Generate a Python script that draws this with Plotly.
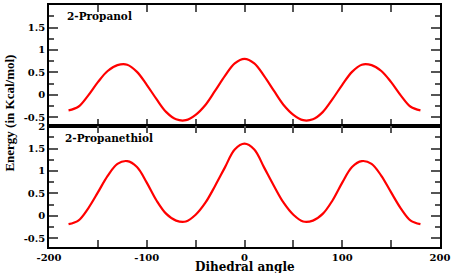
import plotly.graph_objects as go
from plotly.subplots import make_subplots

angle = [-180, -170, -160, -150, -140, -130, -120, -110, -100, -90, -80, -70, -60, -50, -40, -30, -20, -10,
         0, 10, 20, 30, 40, 50, 60, 70, 80, 90, 100, 110, 120, 130, 140, 150, 160, 170, 180]

propanol_half = [-0.35, -0.27, -0.02, 0.28, 0.53, 0.66, 0.67, 0.51, 0.22, -0.10, -0.39, -0.55, -0.57, -0.45, -0.23, 0.09, 0.42, 0.70, 0.80]
propanol = propanol_half + propanol_half[-2::-1]

thiol_half = [-0.19, -0.11, 0.16, 0.52, 0.89, 1.16, 1.22, 1.09, 0.74, 0.34, 0.04, -0.11, -0.13, 0.02, 0.29, 0.67, 1.08, 1.48, 1.61]
propanethiol = thiol_half + thiol_half[-2::-1]

panel_labels = ["2-Propanol", "2-Propanethiol"]
x_tickvals = [-200, -150, -100, -50, 0, 50, 100, 150, 200]
x_ticktext = ["-200", "", "-100", "", "0", "", "100", "", "200"]
y_tickvals = [-0.5, 0, 0.5, 1, 1.5, 2]
y_ticktext = ["-0.5", "0", "0.5", "1", "1.5", "2"]

fig = make_subplots(rows=2, cols=1, shared_xaxes=True, vertical_spacing=0)

for i, ys in enumerate([propanol, propanethiol]):
    fig.add_trace(go.Scatter(x=angle, y=ys, mode="lines",
                             line=dict(color="#ff0000", width=2.2, shape="spline", smoothing=1.0),
                             showlegend=False, hoverinfo="skip"), row=i + 1, col=1)

tickfont = dict(family="DejaVu Serif", size=10, color="black", weight="bold")
for i in range(2):
    fig.update_xaxes(range=[-200, 200], tickvals=x_tickvals, ticktext=x_ticktext, ticks="inside", ticklen=7,
                     tickwidth=1.5, tickcolor="#555555", showline=True, linecolor="black", linewidth=1.5,
                     mirror="ticks", showgrid=False, zeroline=False, tickfont=tickfont, automargin=False,
                     showticklabels=(i == 1), row=i + 1, col=1)
    fig.update_yaxes(range=[-0.7, 2.005], tickvals=y_tickvals, ticktext=y_ticktext, ticks="inside", ticklen=9,
                     tickwidth=1.5, tickcolor="#555555", showline=True, linecolor="black", linewidth=1.5,
                     mirror="ticks", showgrid=False, zeroline=False, tickfont=tickfont, automargin=False,
                     minor=dict(dtick=0.25, tick0=0, ticks="inside", ticklen=5, tickwidth=1.5, tickcolor="#555555"),
                     row=i + 1, col=1)

fig.add_annotation(text="<b>" + panel_labels[0] + "</b>", xref="x domain", yref="y domain", x=0.041, y=0.913,
                   xanchor="left", yanchor="middle", showarrow=False,
                   font=dict(family="DejaVu Serif", size=10.5, color="black"))
fig.add_annotation(text="<b>" + panel_labels[1] + "</b>", xref="x2 domain", yref="y2 domain", x=0.036, y=0.899,
                   xanchor="left", yanchor="middle", showarrow=False,
                   font=dict(family="DejaVu Serif", size=10.5, color="black"))
fig.add_annotation(text="<b>Dihedral angle</b>", xref="paper", yref="paper", x=0.5, y=-0.083,
                   xanchor="center", yanchor="middle", showarrow=False,
                   font=dict(family="DejaVu Serif", size=12, color="black"))
fig.add_annotation(text="<b>Energy (in Kcal/mol)</b>", xref="paper", yref="paper", x=-0.1, y=0.555,
                   xanchor="center", yanchor="middle", textangle=-90, showarrow=False,
                   font=dict(family="Liberation Serif", size=13, color="black"))

fig.update_layout(width=452, height=273, margin=dict(l=49, r=12, t=5, b=26, autoexpand=False),
                  plot_bgcolor="white", paper_bgcolor="white", hovermode=False)

fig.write_html("out.html", config={"displayModeBar": False},
               post_script="document.body.style.margin='0';")
